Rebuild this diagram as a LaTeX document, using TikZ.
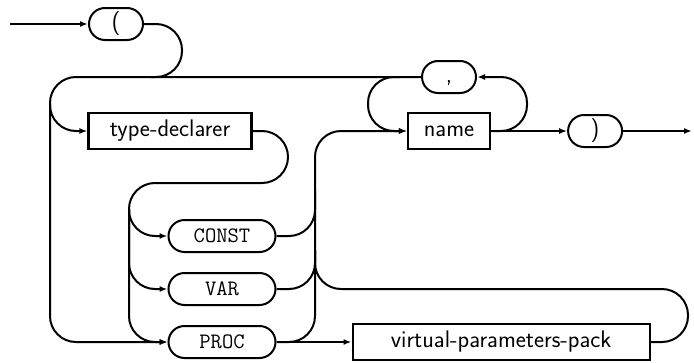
\documentclass[tikz,border=0pt]{standalone}
\usepackage{tikz}
\usetikzlibrary{arrows.meta, positioning}

\begin{document}
\begin{tikzpicture}[
		x=1pt, y=1pt,
		term/.style={draw, line width=2pt, rounded corners=16pt, minimum height=32pt, inner sep=0pt, font=\fontsize{22}{26}\selectfont\ttfamily},
		sym/.style={term, minimum width=54pt, text height=16pt, text depth=5pt, font=\fontsize{24}{28}\selectfont\sffamily},
		nterm/.style={draw, line width=2.2pt, minimum height=36pt, inner sep=0pt, font=\fontsize{24}{28}\selectfont\sffamily},
		rail/.style={line width=2pt, rounded corners=26pt},
		arrow/.style={rail, -{Latex[length=8pt,width=6pt]}}
		]
		\useasboundingbox (0,0) rectangle (694,-362);
		
		% opening bracket
		\coordinate (start) at (10,-24);
		\node[sym] (lpar) at (116,-24) {(};
		
		% type declarer
		\node[nterm, minimum width=163pt] (tdecl) at (170,-131) {type-declarer};
		
		% keywords
		\node[term, minimum width=107pt] (const) at (222,-236) {CONST};
		\node[term, minimum width=107pt, below=19pt of const] (var) {VAR};
		\node[term, minimum width=107pt, below=19pt of var] (proc) {PROC};
		
		% parameters pack
		\node[nterm, minimum width=297pt, right=75pt of proc] (vpack) {virtual-parameters-pack};
		
		% name list
		\node[nterm, minimum width=82pt] (name) at (449,-131) {name};
		\node[sym] (comma) at (449,-77) {,};
		\node[sym, right=76pt of name] (rpar) {)};
		\coordinate (end) at (692,-131);
		
		% entry
		\draw[arrow] (start) -- (lpar.west);
		\draw[rail] (lpar.east) -| (182,-77) -- (150,-77);
		
		% top line and type declarer
		\draw[arrow] (comma.west) -- (50,-77) |- (tdecl.west);
		\draw[arrow] (50,-104) |- (proc.west);
		\draw[arrow] (tdecl.east) -| (288,-183) -- (129,-183) |- (const.west);
		\draw[arrow] (129,-209) |- (var.west);
		\draw[arrow] (129,-209) |- (proc.west);
		
		% keywords to name
		\draw[arrow] (const.east) -| (315,-131) -- (name.west);
		\draw[rail] (var.east) -| (315,-190);
		\draw[rail] (proc.east) -| (315,-250);
		\draw[arrow] (proc.east) -- (vpack.west);
		\draw[rail] (vpack.east) -| (688,-289) -- (315,-289) -- (315,-250);
		
		% list loop
		\draw[arrow] (400,-77) -| (368,-131) -- (name.west);
		\draw[arrow] (name.east) -- (527,-131) |- (comma.east);
		
		% exit
		\draw[arrow] (name.east) -- (rpar.west);
		\draw[arrow] (rpar.east) -- (end);
		
	\end{tikzpicture}
\end{document}
